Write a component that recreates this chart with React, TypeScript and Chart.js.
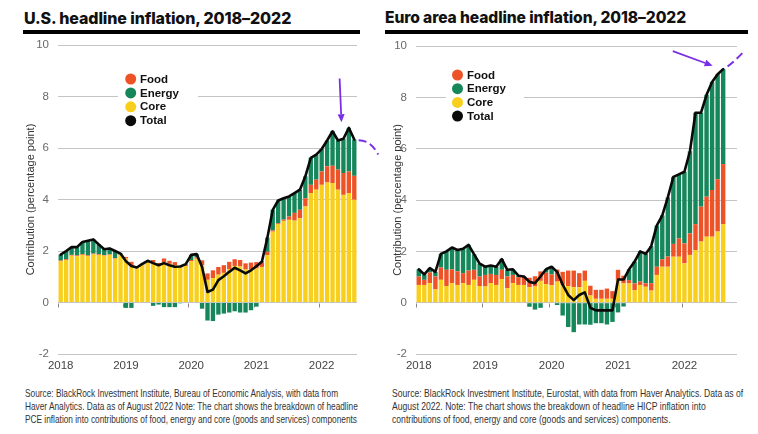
import React, { useEffect, useRef } from 'react';
import { Chart, registerables } from 'chart.js';

Chart.register(...registerables);

// ---------- data ----------
const YEARS = ['2018', '2019', '2020', '2021', '2022'];
const MONTHS = ['Jan', 'Feb', 'Mar', 'Apr', 'May', 'Jun', 'Jul', 'Aug', 'Sep', 'Oct', 'Nov', 'Dec'];
const US_CATEGORY_COUNT = 55; // Jan 2018 – Jul 2022
const EA_CATEGORY_COUNT = 58; // axis runs Jan 2018 – Oct 2022 (data to Aug 2022)
const Y_TICKS = [-2, 0, 2, 4, 6, 8, 10];
const LEGEND_LABELS = ['Food', 'Energy', 'Core', 'Total'];

// U.S. PCE contributions (percentage points), Jan 2018 – Jul 2022
const US_CORE = [
  1.6, 1.65, 1.82, 1.8, 1.85, 1.8, 1.87, 1.85, 1.82, 1.85, 1.7, 1.85,
  1.71, 1.45, 1.33, 1.45, 1.55, 1.55, 1.43, 1.55, 1.5, 1.45, 1.38, 1.42,
  1.6, 1.7, 1.45, 0.88, 0.95, 1.08, 1.15, 1.3, 1.42, 1.4, 1.28, 1.3,
  1.32, 1.38, 1.84, 2.75, 3.05, 3.17, 3.21, 3.18, 3.27, 3.73, 4.25, 4.38,
  4.57, 4.66, 4.64, 4.38, 4.18, 4.25, 3.99,
];
const US_FOOD = [
  0.03, 0.03, 0.03, 0.03, 0.03, 0.03, 0.03, 0.03, 0.02, 0.02, 0.02, 0.02,
  0.06, 0.13, 0.03, 0.03, 0.04, 0.1, 0.1, 0.16, 0.12, 0.12, 0.05, 0.05,
  0.05, 0.05, 0.19, 0.25, 0.3, 0.3, 0.3, 0.28, 0.26, 0.25, 0.24, 0.25,
  0.25, 0.17, 0.13, 0.05, 0.03, 0.05, 0.13, 0.3, 0.33, 0.32, 0.32, 0.39,
  0.52, 0.63, 0.67, 0.78, 0.85, 0.84, 0.93,
];
const US_ENERGY = [
  0.23, 0.32, 0.3, 0.32, 0.47, 0.57, 0.55, 0.37, 0.23, 0.23, 0.28, 0.03,
  -0.21, -0.21, 0.0, 0.02, 0.03, -0.13, -0.08, -0.18, -0.18, -0.18, -0.03, 0.02,
  0.2, 0.13, -0.24, -0.7, -0.72, -0.47, -0.43, -0.39, -0.34, -0.39, -0.39, -0.3,
  -0.16, 0.05, 0.55, 0.8, 0.88, 0.83, 0.78, 0.77, 0.78, 0.85, 1.05, 0.97,
  0.87, 1.0, 1.34, 1.13, 1.33, 1.69, 1.41,
];
const US_TOTAL = [
  1.86, 2.0, 2.15, 2.15, 2.35, 2.4, 2.45, 2.25, 2.07, 2.1, 2.0, 1.9,
  1.6, 1.42, 1.36, 1.5, 1.62, 1.53, 1.45, 1.53, 1.45, 1.39, 1.4, 1.49,
  1.85, 1.88, 1.38, 0.41, 0.5, 0.87, 1.02, 1.19, 1.35, 1.25, 1.13, 1.25,
  1.41, 1.58, 2.5, 3.6, 3.96, 4.05, 4.12, 4.25, 4.38, 4.9, 5.62, 5.74,
  5.96, 6.29, 6.65, 6.29, 6.36, 6.78, 6.33,
];

// Euro area HICP contributions (percentage points), Jan 2018 – Aug 2022
const EA_CORE = [
  0.69, 0.69, 0.76, 0.52, 0.89, 0.65, 0.76, 0.69, 0.76, 0.69, 0.89, 0.65,
  0.63, 0.76, 0.69, 0.92, 0.56, 0.76, 0.69, 0.69, 0.6, 0.63, 0.85, 0.72,
  0.68, 0.82, 0.7, 0.65, 0.6, 0.6, 0.85, 0.28, 0.15, 0.15, 0.15, 0.15,
  0.9, 0.75, 0.75, 0.49, 0.69, 0.62, 0.47, 1.08, 1.4, 1.4, 1.79, 1.79,
  1.53, 1.86, 2.05, 2.38, 2.57, 2.57, 2.77, 3.06,
];
const EA_FOOD = [
  0.33, 0.2, 0.42, 0.5, 0.48, 0.63, 0.54, 0.53, 0.39, 0.56, 0.39, 0.37,
  0.45, 0.36, 0.39, 0.36, 0.46, 0.32, 0.3, 0.32, 0.37, 0.4, 0.37, 0.45,
  0.42, 0.47, 0.5, 0.6, 0.65, 0.55, 0.4, 0.38, 0.35, 0.35, 0.4, 0.3,
  0.38, 0.3, 0.13, 0.26, 0.13, 0.13, 0.29, 0.32, 0.29, 0.4, 0.5, 0.71,
  0.78, 0.84, 1.01, 1.36, 1.56, 1.82, 2.04, 2.34,
];
const EA_ENERGY = [
  0.28, 0.21, 0.17, 0.18, 0.53, 0.72, 0.85, 0.83, 0.95, 1.0, 0.6, 0.5,
  0.32, 0.33, 0.32, 0.42, 0.26, 0.22, 0.06, 0.01, -0.16, -0.27, -0.2, 0.13,
  0.3, -0.09, -0.5, -0.95, -1.15, -0.85, -0.85, -0.86, -0.8, -0.8, -0.85, -0.75,
  -0.38, -0.15, 0.42, 0.85, 1.18, 1.15, 1.44, 1.6, 1.71, 2.3, 2.61, 2.5,
  2.79, 3.2, 4.34, 3.66, 3.97, 4.21, 4.09, 3.7,
];
const EA_TOTAL = [
  1.3, 1.1, 1.35, 1.2, 1.9, 2.0, 2.15, 2.05, 2.1, 2.25, 1.88, 1.52,
  1.4, 1.45, 1.4, 1.7, 1.28, 1.3, 1.05, 1.02, 0.81, 0.76, 1.02, 1.3,
  1.4, 1.2, 0.7, 0.3, 0.1, 0.3, 0.4, -0.2, -0.3, -0.3, -0.3, -0.3,
  0.9, 0.9, 1.3, 1.6, 2.0, 1.9, 2.2, 3.0, 3.4, 4.1, 4.9, 5.0,
  5.1, 5.9, 7.4, 7.4, 8.1, 8.6, 8.9, 9.1,
];

// ---------- styles ----------
const FONT = '"Liberation Sans", Arial, sans-serif';
const CORE_COLOR = '#F8CF1C';
const FOOD_COLOR = '#EE5328';
const ENERGY_COLOR = '#15875B';
const TOTAL_COLOR = '#0a0a0a';
const PURPLE = '#7A2FE6';
const LEGEND_COLORS: Record<string, string> = {
  Food: FOOD_COLOR,
  Energy: ENERGY_COLOR,
  Core: CORE_COLOR,
  Total: TOTAL_COLOR,
};

function buildCategories(count: number): string[] {
  const out: string[] = [];
  YEARS.forEach((y) => MONTHS.forEach((m) => out.push(`${m} ${y}`)));
  return out.slice(0, count);
}

type Pt = [number, number]; // [category index, value]
type DecoOpts = {
  legendDx: number;
  legendDy: number;
  legendStep: number;
  textDx: number;
  box: [number, number, number, number];
  arrow: [Pt, Pt];
  dash: [Pt, Pt, Pt];
};

const decoPlugin = {
  id: 'deco',
  beforeDatasetsDraw(chart: any) {
    const { ctx, scales } = chart;
    const x = scales.x;
    const y = scales.y;
    const labels: string[] = chart.data.labels;
    const y0 = Math.round(y.getPixelForValue(0)) + 0.5;
    ctx.save();
    ctx.strokeStyle = '#8a8a8a';
    ctx.lineWidth = 1;
    labels.forEach((l, i) => {
      if (l.startsWith('Jan')) {
        const px = Math.round(x.getPixelForValue(i - 0.5)) + 0.5;
        ctx.beginPath();
        ctx.moveTo(px, y0);
        ctx.lineTo(px, y0 + 4);
        ctx.stroke();
      }
    });
    ctx.restore();
  },
  afterDatasetsDraw(chart: any, _args: any, opts: DecoOpts) {
    const { ctx, chartArea } = chart;
    ctx.save();
    const [bx, by, bw, bh] = opts.box;
    ctx.fillStyle = '#ffffff';
    ctx.fillRect(chartArea.left + bx, chartArea.top + by, bw, bh);
    ctx.font = `bold 11.5px ${FONT}`;
    ctx.textBaseline = 'middle';
    LEGEND_LABELS.forEach((lab, i) => {
      const cx = chartArea.left + opts.legendDx;
      const cy = chartArea.top + opts.legendDy + i * opts.legendStep;
      ctx.fillStyle = LEGEND_COLORS[lab];
      ctx.beginPath();
      ctx.arc(cx, cy, 5.5, 0, Math.PI * 2);
      ctx.fill();
      ctx.fillStyle = '#111';
      ctx.fillText(lab, chartArea.left + opts.textDx, cy + 0.5);
    });
    ctx.restore();
  },
  afterDraw(chart: any, _args: any, opts: DecoOpts) {
    const { ctx, scales } = chart;
    const px = (p: Pt) => [scales.x.getPixelForValue(p[0]), scales.y.getPixelForValue(p[1])];
    ctx.save();
    ctx.strokeStyle = PURPLE;
    ctx.fillStyle = PURPLE;
    ctx.lineWidth = 1.8;
    // arrow
    const [ax, ay] = px(opts.arrow[0]);
    const [tx, ty] = px(opts.arrow[1]);
    const ang = Math.atan2(ty - ay, tx - ax);
    const head = 8;
    const bxp = tx - head * Math.cos(ang);
    const byp = ty - head * Math.sin(ang);
    ctx.beginPath();
    ctx.moveTo(ax, ay);
    ctx.lineTo(bxp, byp);
    ctx.stroke();
    ctx.beginPath();
    ctx.moveTo(tx, ty);
    ctx.lineTo(bxp + 3.5 * Math.sin(ang), byp - 3.5 * Math.cos(ang));
    ctx.lineTo(bxp - 3.5 * Math.sin(ang), byp + 3.5 * Math.cos(ang));
    ctx.closePath();
    ctx.fill();
    // dashed projection
    const [d0x, d0y] = px(opts.dash[0]);
    const [d1x, d1y] = px(opts.dash[1]);
    const [d2x, d2y] = px(opts.dash[2]);
    ctx.setLineDash([8, 4]);
    ctx.lineWidth = 2;
    ctx.beginPath();
    ctx.moveTo(d0x, d0y);
    ctx.quadraticCurveTo(d1x, d1y, d2x, d2y);
    ctx.stroke();
    ctx.restore();
  },
};

type Props = {
  count: number;
  core: number[];
  food: number[];
  energy: number[];
  total: number[];
  padLeft: number;
  yWidth: number;
  padRight: number;
  padTop: number;
  deco: DecoOpts;
  left: number;
};

function InflationChart(p: Props) {
  const ref = useRef<HTMLCanvasElement>(null);
  useEffect(() => {
    const labels = buildCategories(p.count);
    const chart = new Chart(ref.current as HTMLCanvasElement, {
      type: 'bar',
      data: {
        labels,
        datasets: [
          {
            type: 'line',
            label: 'Total',
            data: p.total,
            borderColor: TOTAL_COLOR,
            borderWidth: 2.6,
            pointRadius: 0,
            stack: 'total',
            order: 0,
            tension: 0,
            borderJoinStyle: 'round',
            borderCapStyle: 'round',
          } as any,
          { label: 'Core', data: p.core, backgroundColor: CORE_COLOR, stack: 'c', order: 1, barPercentage: 1, categoryPercentage: 0.8 },
          { label: 'Food', data: p.food, backgroundColor: FOOD_COLOR, stack: 'c', order: 1, barPercentage: 1, categoryPercentage: 0.8 },
          { label: 'Energy', data: p.energy, backgroundColor: ENERGY_COLOR, stack: 'c', order: 1, barPercentage: 1, categoryPercentage: 0.8 },
        ],
      },
      options: {
        responsive: false,
        animation: false,
        layout: { padding: { left: p.padLeft, right: p.padRight, top: p.padTop, bottom: 0 } },
        plugins: {
          legend: { display: false },
          tooltip: { enabled: false },
          deco: p.deco,
        } as any,
        scales: {
          x: {
            stacked: true,
            offset: true,
            grid: { display: false, drawTicks: false },
            border: { display: false },
            ticks: {
              autoSkip: false,
              maxRotation: 0,
              minRotation: 0,
              padding: 5,
              color: '#444',
              font: { family: FONT, size: 11.5 },
              callback: (_v: any, i: number) => (labels[i].startsWith('Jan') ? labels[i].slice(4) : ''),
            },
            afterFit: (s: any) => {
              s.height = 22;
            },
          },
          y: {
            stacked: true,
            min: -2,
            max: 10,
            afterBuildTicks: (s: any) => {
              s.ticks = Y_TICKS.map((v) => ({ value: v }));
            },
            ticks: { padding: 0, color: '#6a6a6a', font: { family: FONT, size: 11.5 } },
            grid: { color: '#c4c4c4', drawTicks: true, tickLength: 9, tickColor: 'rgba(0,0,0,0)', lineWidth: 1 },
            border: { display: false },
            title: {
              display: true,
              text: 'Contribution (percentage point)',
              color: '#333',
              font: { family: FONT, size: 11 },
              padding: 0,
            },
            afterFit: (s: any) => {
              s.width = p.yWidth;
            },
          },
        },
      } as any,
      plugins: [decoPlugin],
    });
    return () => chart.destroy();
  }, []);
  return (
    <canvas
      ref={ref}
      width={379}
      height={340}
      style={{ position: 'absolute', left: p.left, top: 36, width: 379, height: 340 }}
    />
  );
}

const titleStyle: React.CSSProperties = {
  position: 'absolute',
  top: 8,
  fontFamily: 'Inter, "Liberation Sans", sans-serif',
  fontWeight: 800,
  fontSize: 16,
  color: '#111',
  whiteSpace: 'nowrap',
  letterSpacing: -0.1,
};
const ruleStyle: React.CSSProperties = {
  position: 'absolute',
  top: 30,
  height: 3.5,
  background: '#000',
};
const noteStyle: React.CSSProperties = {
  position: 'absolute',
  top: 387,
  fontFamily: '"Liberation Sans", Arial, sans-serif',
  fontSize: 10.5,
  lineHeight: '13px',
  color: '#333',
  whiteSpace: 'nowrap',
  transformOrigin: '0 0',
};

export default function App() {
  return (
    <div style={{ position: 'absolute', left: 0, top: 0, width: 758, height: 434, background: '#fff', overflow: 'hidden' }}>
      <div style={{ ...titleStyle, left: 24 }}>U.S. headline inflation, 2018–2022</div>
      <div style={{ ...ruleStyle, left: 23, width: 337 }} />
      <div style={{ ...titleStyle, left: 385, fontSize: 15.6 }}>Euro area headline inflation, 2018–2022</div>
      <div style={{ ...ruleStyle, left: 385, width: 363 }} />
      <InflationChart
        count={US_CATEGORY_COUNT}
        core={US_CORE}
        food={US_FOOD}
        energy={US_ENERGY}
        total={US_TOTAL}
        padLeft={24}
        yWidth={34}
        padRight={22}
        padTop={9}
        left={0}
        deco={{
          legendDx: 72.7,
          legendDy: 34,
          legendStep: 13.9,
          textDx: 82,
          box: [60, 25, 80, 60],
          arrow: [
            [51.3, 8.7],
            [51.65, 7.0],
          ],
          dash: [
            [54.8, 6.3],
            [57.0, 6.3],
            [58.4, 5.75],
          ],
        }}
      />
      <InflationChart
        count={EA_CATEGORY_COUNT}
        core={EA_CORE}
        food={EA_FOOD}
        energy={EA_ENERGY}
        total={EA_TOTAL}
        padLeft={12}
        yWidth={25}
        padRight={21}
        padTop={10}
        left={379}
        deco={{
          legendDx: 41.5,
          legendDy: 29,
          legendStep: 13.7,
          textDx: 51,
          box: [30, 20, 78, 60],
          arrow: [
            [45.9, 9.8],
            [53.1, 9.23],
          ],
          dash: [
            [55.8, 9.2],
            [57.3, 9.45],
            [58.8, 9.8],
          ],
        }}
      />
      <div style={{ ...noteStyle, left: 25, transform: 'scaleX(0.79)' }}>
        Source: BlackRock Investment Institute, Bureau of Economic Analysis, with data from
        <br />
        Haver Analytics. Data as of August 2022 Note: The chart shows the breakdown of headline
        <br />
        PCE inflation into contributions of food, energy and core (goods and services) components
      </div>
      <div style={{ ...noteStyle, left: 392, transform: 'scaleX(0.82)' }}>
        Source: BlackRock Investment Institute, Eurostat, with data from Haver Analytics. Data as of
        <br />
        August 2022. Note: The chart shows the breakdown of headline HICP inflation into
        <br />
        contributions of food, energy and core (goods and services) components.
      </div>
    </div>
  );
}
